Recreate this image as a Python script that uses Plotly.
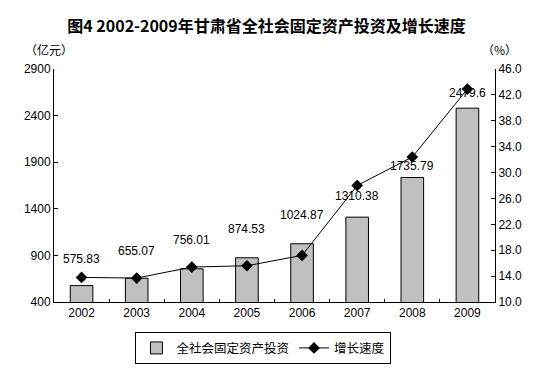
import plotly.graph_objects as go

years = ["2002", "2003", "2004", "2005", "2006", "2007", "2008", "2009"]
investment = [575.83, 655.07, 756.01, 874.53, 1024.87, 1310.38, 1735.79, 2479.6]
growth = [13.8, 13.7, 15.4, 15.6, 17.2, 28.0, 32.4, 42.9]
label_text = ["575.83", "655.07", "756.01", "874.53", "1024.87", "1310.38", "1735.79", "2479.6"]
label_shift = [18, 18, 20, 20, 20, 12, 3, 6]

cjk = "Noto Sans CJK SC"
latin = "Liberation Sans, Arial"

fig = go.Figure()
fig.add_trace(go.Bar(
    x=years, y=investment, name="全社会固定资产投资",
    marker=dict(color="#C0C0C0", line=dict(color="black", width=1)),
    yaxis="y",
))
fig.add_trace(go.Scatter(
    x=years, y=growth, name="增长速度", mode="lines+markers",
    line=dict(color="black", width=1),
    marker=dict(symbol="diamond", size=9, color="black"),
    yaxis="y2",
))

for i, (v, t, s) in enumerate(zip(investment, label_text, label_shift)):
    fig.add_annotation(x=i, xref="x", y=v, yref="y", text=t, showarrow=False,
                       yanchor="bottom", yshift=s,
                       font=dict(family=latin, size=12, color="black"))

fig.update_layout(
    width=533, height=368,
    margin=dict(l=46, r=46, t=61, b=67),
    plot_bgcolor="white", paper_bgcolor="white",
    bargap=0.59,
    showlegend=True,
    title=dict(text="<b>图4 2002-2009年甘肃省全社会固定资产投资及增长速度</b>",
               x=0.485, xanchor="center", y=0.95, yanchor="middle",
               font=dict(family=cjk, size=16, color="black")),
    xaxis=dict(type="category", range=[-0.5, len(years) - 0.5],
               showline=True, linecolor="black", linewidth=1,
               ticks="inside", ticklen=3, tickcolor="black",
               tickson="boundaries", showgrid=False,
               tickfont=dict(family=latin, size=12, color="black")),
    yaxis=dict(range=[400, 2900], dtick=500, tick0=400,
               showline=True, linecolor="black", linewidth=1,
               ticks="inside", ticklen=4, tickcolor="black",
               showgrid=False, zeroline=False,
               tickfont=dict(family=latin, size=12, color="black")),
    yaxis2=dict(range=[10, 46], dtick=4, tick0=10, tickformat=".1f",
                overlaying="y", side="right",
                showline=True, linecolor="black", linewidth=1,
                ticks="inside", ticklen=4, tickcolor="black",
                showgrid=False, zeroline=False,
                tickfont=dict(family=latin, size=12, color="black")),
    legend=dict(orientation="h", x=0.475, xanchor="center", y=-0.13, yanchor="top",
                bordercolor="black", borderwidth=1,
                font=dict(family=cjk, size=12.5, color="black"),
                itemwidth=30, tracegroupgap=0),
)
fig.add_annotation(x=-0.011, xref="paper", xanchor="center", y=1.0, yref="paper",
                   yanchor="bottom", yshift=9, text="（亿元）", showarrow=False,
                   font=dict(family=cjk, size=12, color="black"))
fig.add_annotation(x=1.01, xref="paper", xanchor="center", y=1.0, yref="paper",
                   yanchor="bottom", yshift=9, text="（%）", showarrow=False,
                   font=dict(family=cjk, size=12, color="black"))

fig.write_html("out.html")
